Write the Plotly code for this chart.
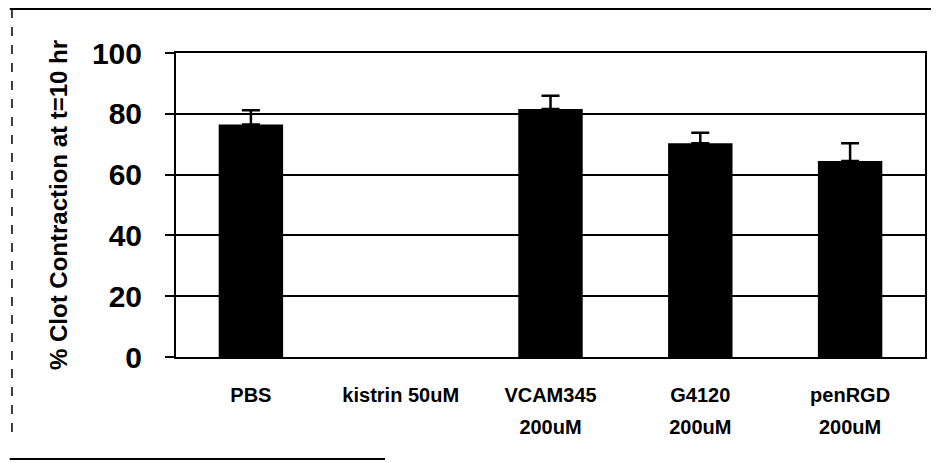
import numpy as np
import plotly.graph_objects as go

cat_line1 = ["PBS", "kistrin 50uM", "VCAM345", "G4120", "penRGD"]
cat_line2 = ["", "", "200uM", "200uM", "200uM"]
values = [76.5, 0, 81.6, 70.3, 64.5]
errors_up = [4.7, np.nan, 4.3, 3.5, 5.8]
errors_down = [0, np.nan, 0, 0, 0]
y_ticks = [0, 20, 40, 60, 80, 100]
y_title = "% Clot Contraction at t=10 hr"

FONT = "Liberation Sans, Arial, sans-serif"
pos = list(range(len(cat_line1)))

fig = go.Figure()
fig.add_trace(go.Bar(
    x=pos,
    y=values,
    width=0.43,
    marker=dict(color="black", line=dict(width=0)),
    error_y=dict(type="data", array=np.array(errors_up), arrayminus=np.array(errors_down),
                 symmetric=False, color="black", thickness=2.5, width=9,
                 visible=True),
    showlegend=False,
))
# invisible helper trace so the second-line label axis is drawn
fig.add_trace(go.Scatter(x=pos, y=values, xaxis="x2", mode="markers",
                         marker=dict(opacity=0), hoverinfo="skip", showlegend=False))

tickfont_x = dict(family=FONT, size=20, weight="bold", color="black")

fig.update_layout(
    width=939, height=463,
    margin=dict(l=168, r=22, t=45, b=114),
    paper_bgcolor="white", plot_bgcolor="white",
    font=dict(family=FONT, color="black"),
    xaxis=dict(
        tickmode="array", tickvals=pos, ticktext=cat_line1,
        range=[-0.5, len(pos) - 0.5],
        showline=True, linecolor="black", linewidth=2, mirror=True,
        showgrid=False, ticks="", zeroline=False,
        tickfont=tickfont_x, ticklabelstandoff=19, tickangle=0,
    ),
    xaxis2=dict(
        overlaying="x", anchor="y", side="bottom",
        tickmode="array", tickvals=pos, ticktext=cat_line2,
        range=[-0.5, len(pos) - 0.5],
        showline=False, showgrid=False, ticks="", zeroline=False,
        tickfont=tickfont_x, ticklabelstandoff=56, tickangle=0,
    ),
    yaxis=dict(
        range=[0, 100], tickmode="array", tickvals=y_ticks,
        showline=True, linecolor="black", linewidth=2, mirror=True,
        showgrid=True, gridcolor="black", gridwidth=2, zeroline=False,
        ticks="outside", ticklen=9, tickwidth=2, tickcolor="black",
        tickfont=dict(family=FONT, size=30, weight="bold", color="black"),
        ticklabelstandoff=17,
        title=dict(text=y_title, font=dict(family=FONT, size=24, weight="bold", color="black"),
                   standoff=18),
    ),
    shapes=[
        dict(type="line", xref="paper", yref="paper", x0=-0.222, x1=1.03, y0=1.1447, y1=1.1447,
             line=dict(color="black", width=2)),
        dict(type="line", xref="paper", yref="paper", x0=-0.219, x1=-0.219, y0=1.1447, y1=-0.25,
             line=dict(color="black", width=1.5, dash="dash")),
        dict(type="line", xref="paper", yref="paper", x0=-0.222, x1=0.279, y0=-0.3355, y1=-0.3355,
             line=dict(color="black", width=2)),
    ],
)

fig.write_html("out.html")
